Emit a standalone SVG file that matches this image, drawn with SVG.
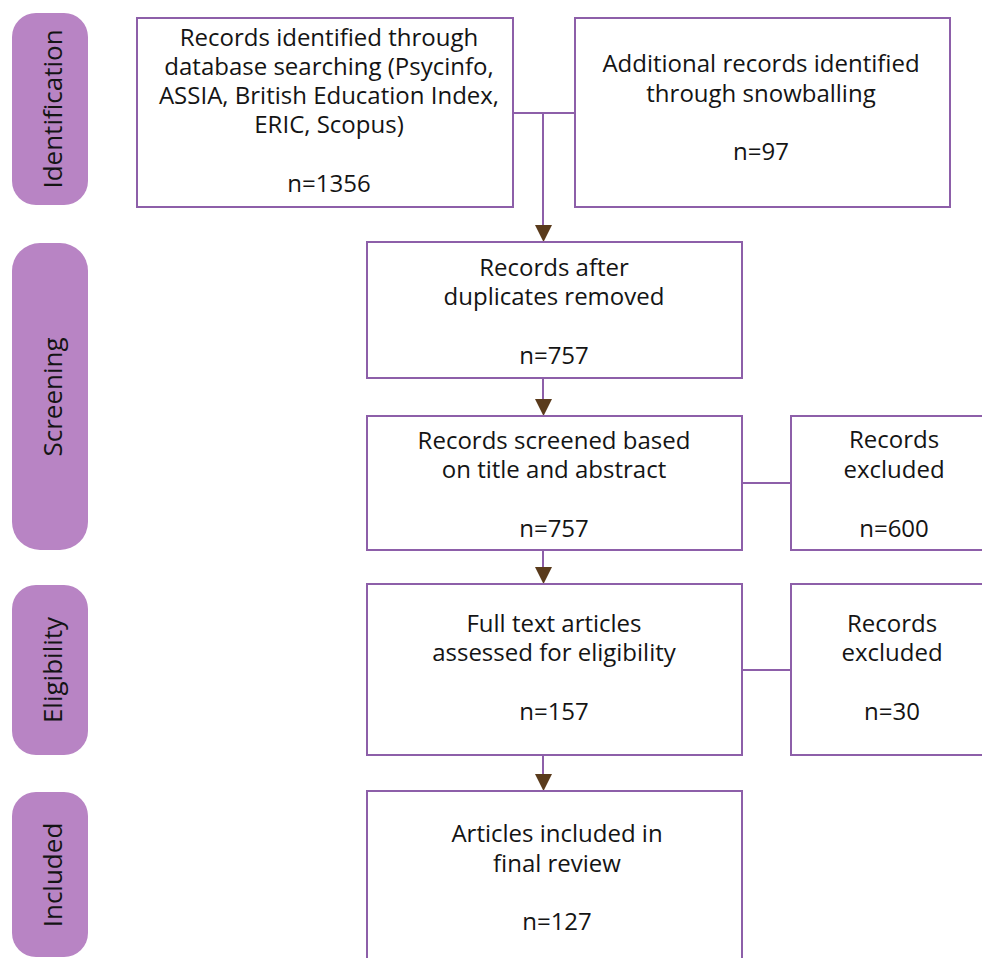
<svg xmlns="http://www.w3.org/2000/svg" width="982" height="958" viewBox="0 0 982 958">
<defs>
<style>
.box{fill:#fff;stroke:#8d5fa9;stroke-width:2}
.pill{fill:#b884c4}
.t{font-family:"Open Sans","DejaVu Sans",sans-serif;font-size:24px;fill:#141414;text-anchor:middle}
.pt{font-family:"Open Sans","DejaVu Sans",sans-serif;font-size:26px;fill:#141414;text-anchor:middle}
.ln{stroke:#8d5fa9;stroke-width:2;fill:none}
.ar{fill:#5a3b1c}
</style>
</defs>
<rect width="982" height="958" fill="#fff"/>
<g id="stage-identification"><rect class="pill" x="12" y="13" width="76" height="192" rx="24"/><text class="pt" transform="translate(62,109) rotate(-90)">Identification</text></g>
<g id="stage-screening"><rect class="pill" x="12" y="243" width="76" height="307" rx="28"/><text class="pt" transform="translate(62,397) rotate(-90)">Screening</text></g>
<g id="stage-eligibility"><rect class="pill" x="12" y="585" width="76" height="170" rx="24"/><text class="pt" transform="translate(62,670) rotate(-90)">Eligibility</text></g>
<g id="stage-included"><rect class="pill" x="12" y="792" width="76" height="165" rx="24"/><text class="pt" transform="translate(62,875) rotate(-90)">Included</text></g>
<g id="connectors">
<path class="ln" d="M513 113H575M543 113V226M543 378V400M742 483H791M543 550V568M742 670H791M543 755V775"/>
<path class="ar" d="M535 225H552L543.5 242Z"/>
<path class="ar" d="M535 399H552L543.5 416Z"/>
<path class="ar" d="M535 567H552L543.5 584Z"/>
<path class="ar" d="M535 774H552L543.5 791Z"/>
</g>
<g id="box-database"><rect class="box" x="137" y="18" width="376" height="189"/>
<text class="t" x="329" y="46">Records identified through</text>
<text class="t" x="329" y="75">database searching (Psycinfo,</text>
<text class="t" x="329" y="104">ASSIA, British Education Index,</text>
<text class="t" x="329" y="133">ERIC, Scopus)</text>
<text class="t" x="329" y="192">n=1356</text></g>
<g id="box-snowballing"><rect class="box" x="575" y="18" width="375" height="189"/>
<text class="t" x="761" y="72">Additional records identified</text>
<text class="t" x="761" y="102">through snowballing</text>
<text class="t" x="761" y="160">n=97</text></g>
<g id="box-duplicates"><rect class="box" x="367" y="242" width="375" height="136"/>
<text class="t" x="554" y="276">Records after</text>
<text class="t" x="554" y="305">duplicates removed</text>
<text class="t" x="554" y="364">n=757</text></g>
<g id="box-screened"><rect class="box" x="367" y="416" width="375" height="134"/>
<text class="t" x="554" y="449">Records screened based</text>
<text class="t" x="554" y="478">on title and abstract</text>
<text class="t" x="554" y="537">n=757</text></g>
<g id="box-excluded-1"><rect class="box" x="791" y="416" width="210" height="134"/>
<text class="t" x="894" y="448">Records</text>
<text class="t" x="894" y="478">excluded</text>
<text class="t" x="894" y="537">n=600</text></g>
<g id="box-fulltext"><rect class="box" x="367" y="584" width="375" height="171"/>
<text class="t" x="554" y="632">Full text articles</text>
<text class="t" x="554" y="661">assessed for eligibility</text>
<text class="t" x="554" y="720">n=157</text></g>
<g id="box-excluded-2"><rect class="box" x="791" y="584" width="210" height="171"/>
<text class="t" x="892" y="632">Records</text>
<text class="t" x="892" y="661">excluded</text>
<text class="t" x="892" y="720">n=30</text></g>
<g id="box-included"><rect class="box" x="367" y="791" width="375" height="190"/>
<text class="t" x="557" y="842">Articles included in</text>
<text class="t" x="557" y="872">final review</text>
<text class="t" x="557" y="930">n=127</text></g>
</svg>
